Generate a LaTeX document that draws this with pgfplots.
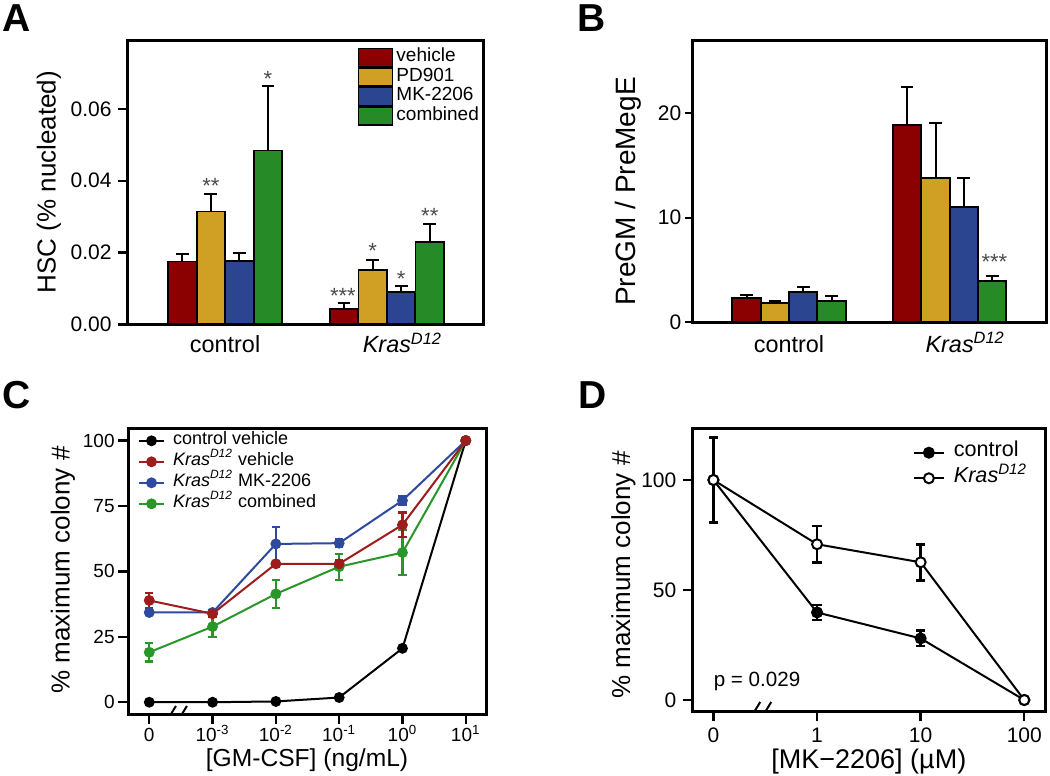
\documentclass[border=0pt]{standalone}
\usepackage{pgfplots}
\pgfplotsset{compat=1.18}
\usepackage{fontspec}
\setmainfont{Liberation Sans}
\definecolor{cred}{RGB}{139,0,0}
\definecolor{cgold}{RGB}{208,160,36}
\definecolor{cblue}{RGB}{43,69,144}
\definecolor{cgreen}{RGB}{38,138,38}
\definecolor{lred}{RGB}{158,28,28}
\definecolor{lblue}{RGB}{46,74,158}
\definecolor{lgreen}{RGB}{40,150,40}
\newcommand\fs[1]{\fontsize{#1}{#1}\selectfont}
\newcommand\kras{\textit{Kras\textsuperscript{D12}}}
\pgfplotsset{
  panel/.style={scale only axis, anchor=north west,
    axis line style={line width=1.5pt},
    tick style={line width=1.2pt, black},
    tick align=outside, major tick length=5pt, tick pos=left,
    scaled y ticks=false, scaled x ticks=false,
    /pgf/number format/assume math mode=true},
  barA/.style={ybar, bar width=0.176, bar shift=0pt, draw=black, line width=0.9pt, fill=#1,
    error bars/.cd, y dir=plus, y explicit,
    error bar style={line width=1pt, black},
    error mark options={rotate=90, mark size=3.2pt, line width=1pt, black}},
  lineC/.style={color=#1, line width=1pt, mark=*, mark size=2.2pt, mark options={fill=#1, solid},
    error bars/.cd, y dir=both, y explicit,
    error bar style={line width=1.1pt, #1},
    error mark options={rotate=90, mark size=2.1pt, line width=1.1pt, #1}},
}
\begin{document}
\begin{tikzpicture}
\useasboundingbox (0,0) rectangle (525pt,-388pt);
% ---------------- A ----------------
\begin{axis}[panel, at={(64pt,-20pt)}, width=178pt, height=142.15pt,
  xmin=-0.6, xmax=1.6, ymin=0, ymax=0.0792,
  xtick={0,1}, xticklabels={control, \textit{Kras}\rlap{\textit{\textsuperscript{D12}}}},
  xtick style={draw=none},
  xticklabel style={font=\fs{11.7}, anchor=base, yshift=-9.2pt},
  ytick={0,0.02,0.04,0.06}, yticklabels={0.00,0.02,0.04,0.06},
  yticklabel style={font=\fs{10.5}, inner sep=3pt},
  ylabel={HSC (\% nucleated)},
  ylabel style={font=\fs{13}, at={(axis description cs:-0.222,0.5)}, anchor=center},
  area legend,
  legend image code/.code={\draw[#1, line width=0.75pt] (0pt,-4.5pt) rectangle (17pt,4.5pt);},
  legend style={at={(0.646,0.972)}, anchor=north west, draw=none, fill=none,
    inner sep=0pt, outer sep=0pt, row sep=0pt, font=\fs{9.5},
    nodes={inner xsep=1.5pt, inner ysep=0pt, text height=6.6pt, text depth=2.4pt},
    cells={anchor=west}},
  legend cell align=left,
]
\addplot[barA=cred] coordinates {(-0.265,0.0175) +- (0,0.0021) (0.735,0.0042) +- (0,0.0018)};
\addlegendentry{vehicle}
\addplot[barA=cgold] coordinates {(-0.088,0.0314) +- (0,0.0049) (0.912,0.0151) +- (0,0.0028)};
\addlegendentry{PD901}
\addplot[barA=cblue] coordinates {(0.088,0.0177) +- (0,0.0021) (1.088,0.0090) +- (0,0.0017)};
\addlegendentry{MK-2206}
\addplot[barA=cgreen] coordinates {(0.265,0.0484) +- (0,0.0179) (1.265,0.0229) +- (0,0.0050)};
\addlegendentry{combined}
\begin{scope}[every node/.style={font=\fs{11}, text=black!70, anchor=base, inner sep=0pt, yshift=-6pt}]
\node at (axis cs:-0.088,0.0398) {**};
\node at (axis cs:0.265,0.0695) {*};
\node at (axis cs:0.728,0.0091) {***};
\node at (axis cs:0.912,0.0216) {*};
\node at (axis cs:1.088,0.0140) {*};
\node at (axis cs:1.265,0.0314) {**};
\end{scope}
\end{axis}
% ---------------- B ----------------
\begin{axis}[panel, at={(346.35pt,-20pt)}, width=176.65pt, height=141.15pt,
  major tick length=4pt,
  xmin=-0.6, xmax=1.6, ymin=0, ymax=27,
  xtick={0,1}, xticklabels={control, \textit{Kras}\rlap{\textit{\textsuperscript{D12}}}},
  xtick style={draw=none},
  xticklabel style={font=\fs{11.7}, anchor=base, yshift=-11.2pt},
  ytick={0,10,20}, yticklabels={0,10,20},
  yticklabel style={font=\fs{10.5}, inner sep=1.5pt},
  ylabel={PreGM / PreMegE},
  ylabel style={font=\fs{14}, at={(axis description cs:-0.182,0.463)}, anchor=center},
]
\addplot[barA=cred] coordinates {(-0.265,2.35) +- (0,0.25) (0.735,18.88) +- (0,3.67)};
\addplot[barA=cgold] coordinates {(-0.088,1.82) +- (0,0.22) (0.912,13.78) +- (0,5.26)};
\addplot[barA=cblue] coordinates {(0.088,2.87) +- (0,0.48) (1.088,11.0) +- (0,2.84)};
\addplot[barA=cgreen] coordinates {(0.265,2.07) +- (0,0.48) (1.265,3.95) +- (0,0.51)};
\node[font=\fs{11}, text=black!70, anchor=base, inner sep=0pt, yshift=-6pt] at (axis cs:1.279,6.15) {***};
\end{axis}
% ---------------- C ----------------
\begin{axis}[panel, at={(64pt,-214.15pt)}, width=179pt, height=142.85pt,
  xmin=-0.336, xmax=5.32, ymin=-4.5, ymax=104.7,
  xtick={0,1,2,3,4,5},
  xticklabels={0,10\textsuperscript{-3},10\textsuperscript{-2},10\textsuperscript{-1},10\textsuperscript{0},10\textsuperscript{1}},
  xticklabel style={font=\fs{9.5}, anchor=base, yshift=-8.85pt},
  ytick={0,25,50,75,100}, yticklabels={0,25,50,75,100},
  yticklabel style={font=\fs{9.5}, inner sep=1.5pt},
  xlabel={[GM-CSF] (ng/mL)},
  xlabel style={font=\fs{12.3}, at={(axis description cs:0.5,-0.161)}, anchor=center},
  ylabel={\% maximum colony \#},
  ylabel style={font=\fs{13}, at={(axis description cs:-0.182,0.504)}, anchor=center},
  legend image code/.code={\draw[mark repeat=2, mark phase=2, #1] plot coordinates {(0pt,0pt) (6.25pt,0pt) (12.5pt,0pt)};},
  legend style={at={(0.028,0.993)}, anchor=north west, draw=none, fill=none,
    inner sep=0pt, outer sep=0pt, row sep=0pt, font=\fs{9},
    nodes={inner xsep=4pt, inner ysep=0pt, text height=7pt, text depth=3.5pt},
    cells={anchor=west}},
  legend cell align=left,
]
\addlegendimage{lineC=black}
\addlegendentry{control vehicle}
\addlegendimage{lineC=lred}
\addlegendentry{\kras{} vehicle}
\addlegendimage{lineC=lblue}
\addlegendentry{\kras{} MK-2206}
\addlegendimage{lineC=lgreen}
\addlegendentry{\kras{} combined}
\addplot[forget plot, lineC=black] coordinates {(0,0) (1,0) (2,0.3) (3,1.8) (4,20.6) (5,100)};
\addplot[forget plot, lineC=lblue] coordinates {(0,34.3) +- (0,1) (1,34.3) +- (0,0.8) (2,60.5) +- (0,6.5) (3,60.8) +- (0,1.5) (4,77.1) +- (0,1.5) (5,100)};
\addplot[forget plot, lineC=lgreen] coordinates {(0,19.1) +- (0,3.5) (1,28.9) +- (0,4) (2,41.4) +- (0,5.3) (3,51.8) +- (0,5) (4,57.2) +- (0,8.6) (5,100)};
\addplot[forget plot, lineC=lred] coordinates {(0,38.9) +- (0,3) (1,33.8) +- (0,1) (2,52.9) +- (0,1) (3,52.9) +- (0,1.5) (4,67.8) +- (0,4.7) (5,100)};
\draw[line width=1pt] ([xshift=-8pt,yshift=-5pt]axis cs:0.5,-4.5) -- ++(5.5pt,9pt);
\draw[line width=1pt] ([xshift=-2.5pt,yshift=-5pt]axis cs:0.5,-4.5) -- ++(5.5pt,9pt);
\end{axis}
% ---------------- D ----------------
\begin{axis}[panel, at={(346.35pt,-214.15pt)}, width=176.15pt, height=141.35pt,
  xmin=-0.2, xmax=3.2, ymin=-5, ymax=123.5,
  xtick={0,1,2,3}, xticklabels={0,1,10,100},
  xticklabel style={font=\fs{10.5}, anchor=base, yshift=-10.85pt},
  ytick={0,50,100}, yticklabels={0,50,100},
  yticklabel style={font=\fs{10.5}, inner sep=3pt},
  xlabel={[MK−2206] (µM)},
  xlabel style={font=\fs{13.5}, at={(axis description cs:0.5,-0.179)}, anchor=center},
  ylabel={\% maximum colony \#},
  ylabel style={font=\fs{13}, at={(axis description cs:-0.197,0.481)}, anchor=center},
  legend image code/.code={\draw[mark repeat=2, mark phase=2, #1] plot coordinates {(0pt,0pt) (7.5pt,0pt) (15pt,0pt)};},
  legend style={at={(0.625,0.959)}, anchor=north west, draw=none, fill=none,
    inner sep=0pt, outer sep=0pt, row sep=0pt, font=\fs{10.8},
    nodes={inner xsep=4.5pt, inner ysep=0pt, text height=8.4pt, text depth=4.4pt},
    cells={anchor=west}},
  legend cell align=left,
]
\addplot[black, line width=1pt, mark=*, mark size=2.5pt, mark options={fill=black},
  error bars/.cd, y dir=both, y explicit, error bar style={line width=1.3pt},
  error mark options={rotate=90, mark size=2.3pt, line width=1.3pt}]
  coordinates {(0,100) (1,39.8) +- (0,3.4) (2,28) +- (0,3.5) (3,0)};
\addlegendentry{control}
\addplot[black, line width=1pt, mark=*, mark size=2.5pt, mark options={fill=white},
  error bars/.cd, y dir=both, y explicit, error bar style={line width=1.3pt},
  error mark options={rotate=90, mark size=2.3pt, line width=1.3pt}]
  coordinates {(0,100) +- (0,19.2) (1,70.8) +- (0,8.3) (2,62.6) +- (0,8.2) (3,0)};
\addlegendentry{\kras}
\node[anchor=base west, inner sep=0pt, font=\fs{10.3}] at (axis cs:0,6.05) {p = 0.029};
\draw[line width=1pt] ([xshift=-8pt,yshift=-4.5pt]axis cs:0.5,-5) -- ++(5.5pt,9pt);
\draw[line width=1pt] ([xshift=-2.5pt,yshift=-4.5pt]axis cs:0.5,-5) -- ++(5.5pt,9pt);
\end{axis}
% panel letters
\begin{scope}[every node/.style={anchor=base west, inner sep=0pt, font=\fontsize{19.5}{20}\selectfont\bfseries}]
\node at (1pt,-16pt) {A};
\node at (288.5pt,-16pt) {B};
\node at (1pt,-204pt) {C};
\node at (289pt,-204pt) {D};
\end{scope}
\end{tikzpicture}
\end{document}
